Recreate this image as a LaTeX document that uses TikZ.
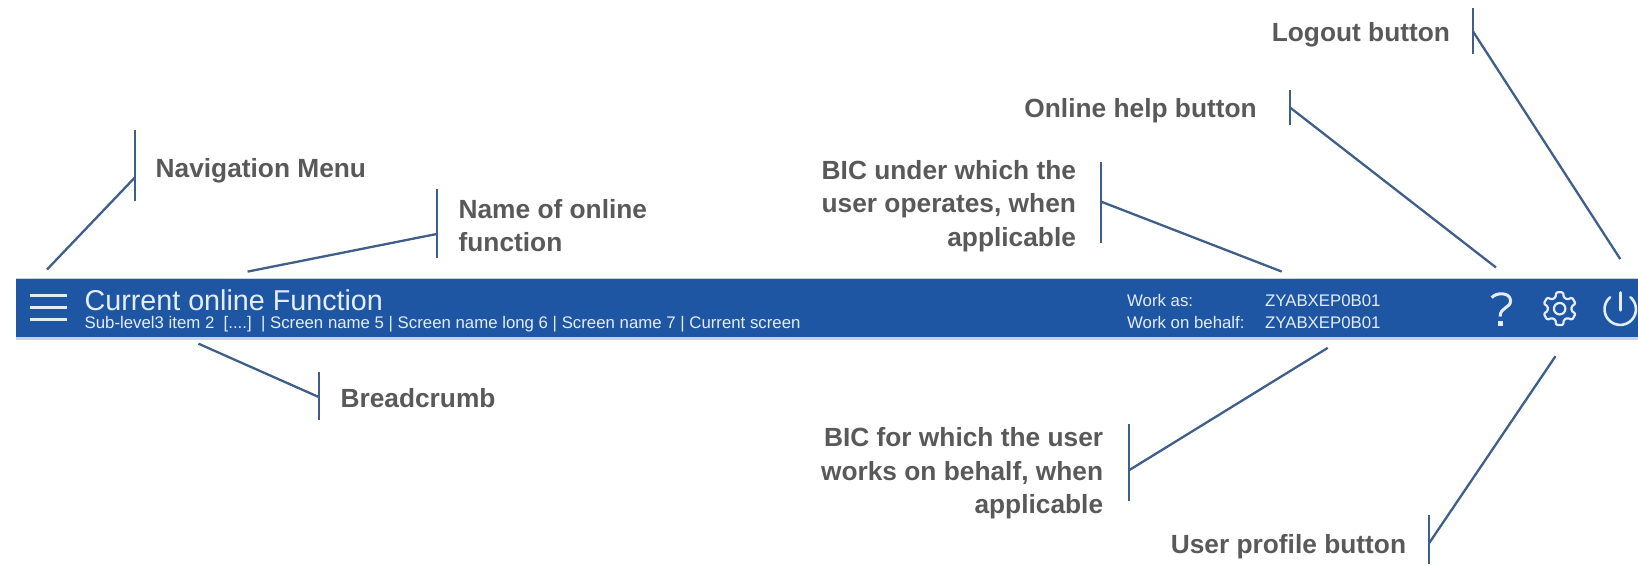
\documentclass[tikz,border=0pt]{standalone}
\usepackage{fontspec}
\setmainfont{Liberation Sans}
\definecolor{barblue}{HTML}{1F56A3}
\definecolor{linkblue}{HTML}{3F5F8A}
\definecolor{labelgray}{HTML}{595959}
\definecolor{edgeblue}{HTML}{C5D3E8}
\definecolor{onbar}{HTML}{E4ECF6}
\tikzset{
  lab/.style={font=\fontsize{26.3}{33.5}\selectfont\bfseries, text=labelgray, inner sep=0pt, outer sep=0pt},
  labl/.style={lab, anchor=west, align=left},
  labr/.style={lab, anchor=east, align=right},
  tick/.style={draw=linkblue, line width=2pt},
  lead/.style={draw=linkblue, line width=2.3pt},
  onb/.style={text=onbar, inner sep=0pt, outer sep=0pt, anchor=west},
  icon/.style={draw=onbar, line width=2.6pt},
}
\begin{document}
\begin{tikzpicture}[x=1.0446pt,y=-1.0446pt]
\useasboundingbox (0,0) rectangle (1568,541);
% bar
\fill[edgeblue] (15,266) rectangle (1568,325);
\fill[barblue] (15,267.5) rectangle (1568,322.5);
\node[onb,font=\fontsize{28.7}{28}\selectfont] (title) at (81,287.5) {Current online Function};
\node[onb,font=\fontsize{16.8}{17}\selectfont] (crumb) at (81,310.5) {Sub-level3 item 2\ \ [....]\ \ | Screen name 5 | Screen name long 6 | Screen name 7 | Current screen};
\node[onb,font=\fontsize{16.8}{17}\selectfont] (wa) at (1079,287.5) {Work as:};
\node[onb,font=\fontsize{16.8}{17}\selectfont] (wb) at (1079,308.5) {Work on behalf:};
\node[onb,font=\fontsize{16.8}{17}\selectfont] (za) at (1211,287.5) {ZYABXEP0B01};
\node[onb,font=\fontsize{16.8}{17}\selectfont] (zb) at (1211,308.5) {ZYABXEP0B01};
% hamburger
\draw[icon,line width=3pt] (29,283) -- (64,283) (29,294.5) -- (64,294.5) (29,306) -- (64,306);
% help
\draw[icon,line join=round,line width=3pt] (1428,285) .. controls (1431,280) and (1446,279) .. (1446,288) .. controls (1446,295) and (1436,294) .. (1436,303);
\fill[onbar] (1434,307) rectangle (1438.5,312);
% gear
\begin{scope}[shift={(1493,295.5)}]
\draw[icon,line width=2.2pt,line join=round,rounded corners=1.2pt]
  (18:16) -- (42:16) -- (50:11.5) -- (70:11.5) -- (78:16) -- (102:16)
  -- (110:11.5) -- (130:11.5) -- (138:16) -- (162:16)
  -- (170:11.5) -- (190:11.5) -- (198:16) -- (222:16)
  -- (230:11.5) -- (250:11.5) -- (258:16) -- (282:16)
  -- (290:11.5) -- (310:11.5) -- (318:16) -- (342:16)
  -- (350:11.5) -- (370:11.5) -- cycle;
\draw[icon,line width=2.2pt] (0,0) circle (5.5);
\end{scope}
% power
\draw[icon,line cap=round] plot[smooth,samples=40,domain=40:320,variable=\t] ({1551+15*sin(\t)},{296-15*cos(\t)});
\draw[icon,line cap=round] (1551,280) -- (1551,297);
% labels
\node[labl] (nav) at (149,163) {Navigation Menu};
\node[labl] (name) at (439,216) {Name of online\\function};
\node[labl] (bread) at (326,381) {Breadcrumb};
\node[labr] (under) at (1030,197) {BIC under which the\\user operates, when\\applicable};
\node[labr] (help) at (1203,106) {Online help button};
\node[labr] (logout) at (1388,33) {Logout button};
\node[labr] (behalf) at (1056,453) {BIC for which the user\\works on behalf, when\\applicable};
\node[labr] (profile) at (1346,523) {User profile button};
% ticks
\coordinate (navT) at (129,124); \coordinate (navB) at (129,192); \coordinate (navM) at (129,170); \coordinate (navE) at (45,258);
\coordinate (nameT) at (418,181); \coordinate (nameB) at (418,247); \coordinate (nameM) at (418,224); \coordinate (nameE) at (237,260);
\coordinate (brT) at (305,356); \coordinate (brB) at (305,402); \coordinate (brM) at (305,380); \coordinate (brE) at (190,329);
\coordinate (unT) at (1054,155); \coordinate (unB) at (1054,233); \coordinate (unM) at (1054,193); \coordinate (unE) at (1227,260);
\coordinate (heT) at (1235,86); \coordinate (heB) at (1235,120); \coordinate (heM) at (1235,103); \coordinate (heE) at (1432,256);
\coordinate (loT) at (1410,8); \coordinate (loB) at (1410,52); \coordinate (loM) at (1410,30); \coordinate (loE) at (1551,248);
\coordinate (beT) at (1081,406); \coordinate (beB) at (1081,480); \coordinate (beM) at (1081,450); \coordinate (beE) at (1271,333);
\coordinate (prT) at (1368,493); \coordinate (prB) at (1368,540); \coordinate (prM) at (1368,520); \coordinate (prE) at (1489,341);
\foreach \k in {nav,name,br,un,he,lo,be,pr}{
  \draw[tick] (\k T) -- (\k B);
  \draw[lead] (\k M) -- (\k E);
}
\end{tikzpicture}
\end{document}
